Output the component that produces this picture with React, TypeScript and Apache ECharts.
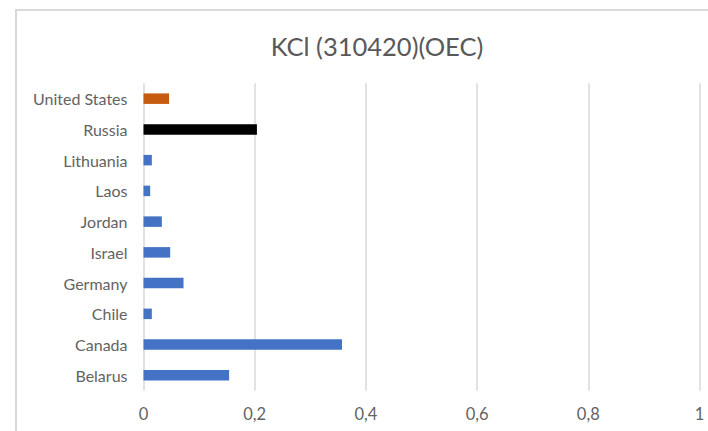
import React, { useEffect, useRef } from "react";
import * as echarts from "echarts";

const title = "KCl (310420)(OEC)";
const categories = ["Belarus", "Canada", "Chile", "Germany", "Israel", "Jordan", "Laos", "Lithuania", "Russia", "United States"];
const values = [0.154, 0.357, 0.015, 0.072, 0.048, 0.033, 0.012, 0.015, 0.204, 0.046];
const xTicks = { min: 0, max: 1, interval: 0.2 };

const BLUE = "#4472C4";
const highlight: Record<string, string> = { "United States": "#C55A11", Russia: "#000000" };

export default function App() {
  const ref = useRef<HTMLDivElement>(null);
  useEffect(() => {
    if (!ref.current) return;
    const chart = echarts.init(ref.current, undefined, { renderer: "svg" });
    const font = "Lato, 'Open Sans', sans-serif";
    chart.setOption({
      animation: false,
      backgroundColor: "#ffffff",
      textStyle: { fontFamily: font },
      title: {
        text: title,
        left: 372,
        textAlign: "center",
        top: 28,
        textStyle: { fontFamily: font, fontSize: 25.5, fontWeight: "normal", color: "#595959" },
      },
      graphic: [
        {
          type: "rect",
          shape: { x: 16, y: 10, width: 800, height: 600 },
          style: { fill: "none", stroke: "#D9D9D9", lineWidth: 2 },
          silent: true,
        },
      ],
      grid: { left: 143.5, right: 8.5, top: 83.3, bottom: 40.3, containLabel: false },
      xAxis: {
        type: "value",
        min: xTicks.min,
        max: xTicks.max,
        interval: xTicks.interval,
        axisLine: { show: false },
        axisTick: { show: false },
        splitLine: { show: true, lineStyle: { color: "#D9D9D9", width: 1.5 } },
        axisLabel: {
          color: "#636363",
          fontSize: 16.5,
          fontFamily: font,
          margin: 15,
          formatter: (v: number) => String(Math.round(v * 10) / 10).replace(".", ","),
        },
      },
      yAxis: {
        type: "category",
        data: categories,
        axisLine: { show: false },
        axisTick: { show: false },
        splitLine: { show: false },
        axisLabel: { color: "#636363", fontSize: 16, fontFamily: font, margin: 16 },
      },
      series: [
        {
          type: "bar",
          barWidth: 10.5,
          data: values.map((v, i) => ({
            value: v,
            itemStyle: { color: highlight[categories[i]] ?? BLUE },
          })),
        },
      ],
    });
    return () => chart.dispose();
  }, []);
  return (
    <div
      ref={ref}
      style={{ position: "fixed", left: 0, top: 0, width: 708, height: 431 }}
    />
  );
}
